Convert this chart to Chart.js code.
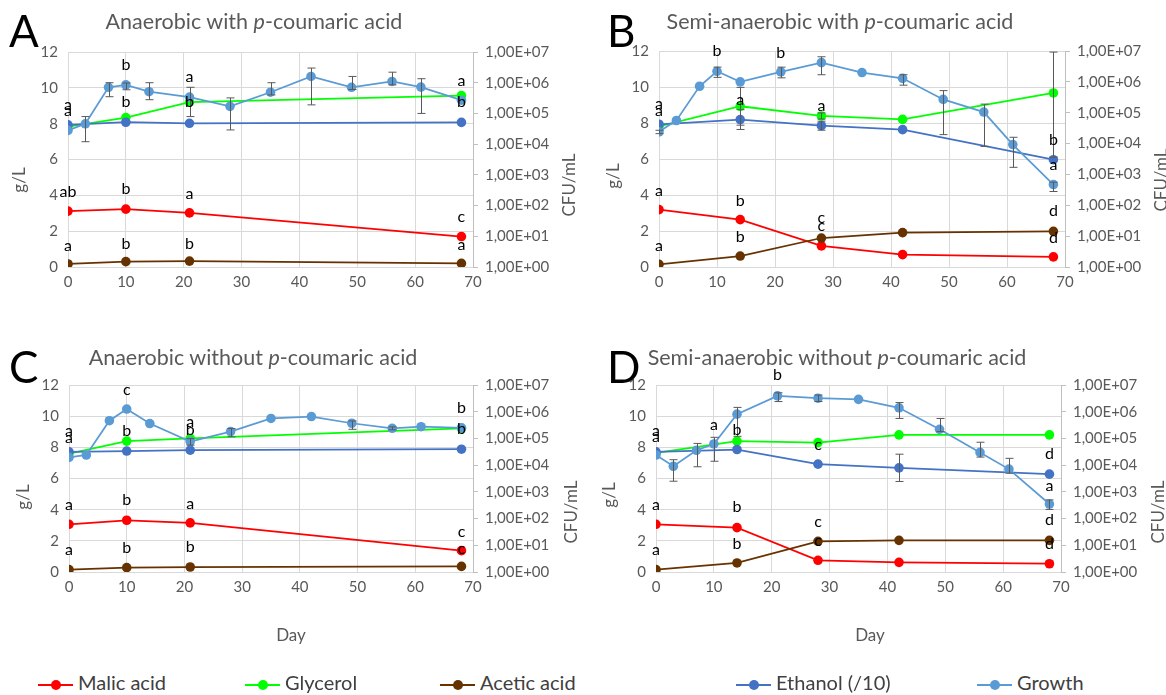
<!DOCTYPE html>
<html>
<head>
<meta charset="utf-8">
<script src="https://cdn.jsdelivr.net/npm/chart.js@4.4.0/dist/chart.umd.min.js"></script>
<style>
body { margin:0; background:#fff; font-family: Lato, "Open Sans", sans-serif; }
#page { position:relative; width:1166px; height:695px; overflow:hidden; }
canvas { position:absolute; }
.title { position:absolute; color:#595959; font-size:21.5px; white-space:nowrap; transform:translateX(-50%); }
.letter { position:absolute; font-size:44px; color:#000; line-height:1; }
.ytitle { position:absolute; color:#595959; font-size:17px; white-space:nowrap; transform:translate(-50%,-50%) rotate(-90deg); }
.xtitle { position:absolute; color:#595959; font-size:17px; transform:translateX(-50%); }
.leg { position:absolute; top:670px; font-size:20px; color:#404040; white-space:nowrap; }
.mk { display:inline-block; position:relative; width:35px; height:2px; vertical-align:middle; margin-right:5px; }
.mk::after { content:""; position:absolute; left:13px; top:-4px; width:10px; height:10px; border-radius:50%; background:inherit; }
</style>
</head>
<body>
<div id="page">
  <canvas id="chartA" width="580" height="300" style="left:0;top:0"></canvas>
  <canvas id="chartB" width="586" height="300" style="left:580px;top:0"></canvas>
  <canvas id="chartC" width="580" height="300" style="left:0;top:340px"></canvas>
  <canvas id="chartD" width="586" height="300" style="left:580px;top:340px"></canvas>

  <div class="letter" style="left:9px;top:8px">A</div>
  <div class="letter" style="left:607px;top:8px">B</div>
  <div class="letter" style="left:9px;top:344px">C</div>
  <div class="letter" style="left:607px;top:344px">D</div>

  <div class="title" style="left:254px;top:8px">Anaerobic with <i>p</i>-coumaric acid</div>
  <div class="title" style="left:840px;top:8px">Semi-anaerobic with <i>p</i>-coumaric acid</div>
  <div class="title" style="left:253px;top:344px">Anaerobic without <i>p</i>-coumaric acid</div>
  <div class="title" style="left:837px;top:344px">Semi-anaerobic without <i>p</i>-coumaric acid</div>

  <div class="ytitle" style="left:18px;top:180px">g/L</div>
  <div class="ytitle" style="left:612px;top:176px">g/L</div>
  <div class="ytitle" style="left:22px;top:497px">g/L</div>
  <div class="ytitle" style="left:608px;top:495px">g/L</div>
  <div class="ytitle" style="left:568px;top:185px">CFU/mL</div>
  <div class="ytitle" style="left:1160px;top:180px">CFU/mL</div>
  <div class="ytitle" style="left:570px;top:512px">CFU/mL</div>
  <div class="ytitle" style="left:1157px;top:512px">CFU/mL</div>
  <div class="xtitle" style="left:291px;top:624px">Day</div>
  <div class="xtitle" style="left:870px;top:624px">Day</div>

  <div class="leg" style="left:38px"><span class="mk" style="background:#ff0000"></span>Malic acid</div>
  <div class="leg" style="left:245px"><span class="mk" style="background:#00ff00"></span>Glycerol</div>
  <div class="leg" style="left:440px"><span class="mk" style="background:#663300"></span>Acetic acid</div>
  <div class="leg" style="left:736px"><span class="mk" style="background:#4472c4"></span>Ethanol (/10)</div>
  <div class="leg" style="left:977px"><span class="mk" style="background:#5b9bd5"></span>Growth</div>
</div>

<script>
// growth sampling days (same in all four panels)
const growthDays = [0, 3, 7, 10, 14, 21, 28, 35, 42, 49, 56, 61, 68];
const cfuTicks = [1, 10, 100, 1e3, 1e4, 1e5, 1e6, 1e7];

// A - anaerobic with p-coumaric acid
const daysA = [0, 10, 21, 68];
const malicA = [3.12, 3.23, 3.02, 1.70];
const glycerolA = [7.84, 8.34, 9.20, 9.57];
const aceticA = [0.17, 0.30, 0.33, 0.20];
const ethanolA = [7.93, 8.08, 8.02, 8.07];
const growthA = [2.8e4, 4.6e4, 7.1e5, 8.5e5, 5.1e5, 3.4e5, 1.7e5, 4.9e5, 1.6e6, 7.1e5, 1.1e6, 7.2e5, 2.7e5];
const growthErrA = [null, [1.2e4, 7.9e4], [3.5e5, 1.0e6], [5.9e5, 9.8e5], [2.8e5, 1.0e6], [7.9e4, 7.1e5],
  [2.9e4, 3.2e5], [4.0e5, 1.0e6], [1.9e5, 3.0e6], [6.0e5, 1.6e6], [8.5e5, 2.2e6], [1.0e5, 1.35e6], null];
const lettersA = [[0, 9.05, 'a'], [0, 8.7, 'a'], [0, 4.2, 'ab'], [0, 1.2, 'a'],
  [10, 11.3, 'b'], [10, 9.2, 'b'], [10, 4.35, 'b'], [10, 1.3, 'b'],
  [21, 10.6, 'a'], [21, 9.23, 'b'], [21, 4.1, 'a'], [21, 1.3, 'b'],
  [68, 10.37, 'a'], [68, 9.2, 'b'], [68, 2.78, 'c'], [68, 1.24, 'a']];

// B - semi-anaerobic with p-coumaric acid
const daysB = [0, 14, 28, 42, 68];
const malicB = [3.19, 2.63, 1.17, 0.69, 0.56];
const glycerolB = [7.81, 8.93, 8.39, 8.20, 9.67];
const aceticB = [0.15, 0.61, 1.61, 1.91, 1.98];
const ethanolB = [7.93, 8.19, 7.85, 7.63, 5.96];
const glycerolErrB = [null, [7.88, 9.98], [8.22, 8.56], null, [6.1, 11.94]];
const ethanolErrB = [null, [7.64, 8.74], [7.6, 8.1], null, null];
const growthB = [2.4e4, 5.6e4, 7.2e5, 2.2e6, 1.0e6, 2.1e6, 4.2e6, 2.0e6, 1.3e6, 2.7e5, 1.05e5, 9.3e3, 4.7e2];
const growthErrB = [[2.1e4, 2.7e4], null, null, [1.4e6, 3.0e6], null, [1.35e6, 3.0e6], [1.7e6, 6.5e6],
  null, [7.8e5, 1.7e6], [1.95e4, 5.2e5], [8.1e3, 1.9e5], [1.7e3, 1.6e4], [2.8e2, 5.6e2]];
const lettersB = [[0, 9.04, 'a'], [0, 8.7, 'a'], [0, 4.22, 'a'], [0, 1.2, 'a'],
  [10, 12.0, 'b'], [14, 9.3, 'a'], [14, 3.7, 'b'], [14, 1.7, 'b'], [21, 11.9, 'b'],
  [28, 8.98, 'a'], [28, 2.74, 'c'], [28, 2.3, 'c'],
  [68, 7.07, 'b'], [68, 5.69, 'a'], [68, 3.11, 'd'], [68, 1.63, 'd']];

// C - anaerobic without p-coumaric acid
const daysC = [0, 10, 21, 68];
const malicC = [3.06, 3.32, 3.15, 1.37];
const glycerolC = [7.60, 8.40, 8.57, 9.22];
const aceticC = [0.15, 0.28, 0.32, 0.36];
const ethanolC = [7.71, 7.76, 7.82, 7.88];
const growthC = [1.95e4, 2.4e4, 4.6e5, 1.26e6, 3.6e5, 7.6e4, 1.8e5, 5.6e5, 6.6e5, 3.7e5, 2.4e5, 2.75e5, 2.5e5];
const growthErrC = [null, null, null, null, null, [5.6e4, 9.8e4], [1.15e5, 2.35e5], null, null,
  [2.2e5, 4.5e5], [2.1e5, 2.7e5], null, null];
const lettersC = [[0, 9.06, 'a'], [0, 8.63, 'a'], [0, 4.33, 'a'], [0, 1.39, 'a'],
  [10, 11.72, 'c'], [10, 9.06, 'b'], [10, 4.6, 'b'], [10, 1.56, 'b'],
  [21, 9.64, 'a'], [21, 9.15, 'b'], [21, 4.39, 'a'], [21, 1.6, 'b'],
  [68, 10.55, 'b'], [68, 9.16, 'b'], [68, 2.6, 'c'], [68, 1.47, 'c']];

// D - semi-anaerobic without p-coumaric acid
const daysD = [0, 14, 28, 42, 68];
const malicD = [3.06, 2.85, 0.75, 0.62, 0.53];
const glycerolD = [7.65, 8.40, 8.31, 8.80, 8.80];
const aceticD = [0.15, 0.58, 1.97, 2.03, 2.03];
const ethanolD = [7.71, 7.86, 6.92, 6.68, 6.28];
const ethanolErrD = [null, null, null, [5.81, 7.56], null];
const growthD = [2.4e4, 9.1e3, 3.6e4, 6.2e4, 8.1e5, 3.9e6, 3.2e6, 2.9e6, 1.4e6, 2.2e5, 3.0e4, 7.1e3, 3.5e2];
const growthErrD = [null, [2.5e3, 1.6e4], [8.7e3, 6.5e4], [1.4e4, 1.1e5], [1.2e5, 1.45e6], [2.4e6, 5.1e6],
  [2.4e6, 4.2e6], null, [5.6e5, 2.2e6], [1.8e5, 5.6e5], [2.0e4, 7.2e4], [5.0e3, 1.8e4], [2.2e2, 5.0e2]];
const lettersD = [[0, 9.04, 'a'], [0, 8.68, 'a'], [0, 4.33, 'a'], [0, 1.39, 'a'],
  [10, 9.47, 'a'], [14, 9.15, 'b'], [14, 4.18, 'b'], [14, 1.82, 'b'], [21, 12.64, 'b'],
  [28, 8.14, 'c'], [28, 3.21, 'c'], [28, 2.03, 'c'],
  [68, 7.58, 'd'], [68, 5.55, 'a'], [68, 3.35, 'd'], [68, 1.82, 'd']];

const FONT = 'Lato, "Open Sans", sans-serif';

// draws vertical error bars with caps
const errorBars = {
  id: 'errorBars',
  afterDatasetsDraw(chart) {
    const ctx = chart.ctx;
    ctx.save();
    ctx.strokeStyle = '#595959';
    ctx.lineWidth = 1;
    chart.data.datasets.forEach(ds => {
      if (!ds.err) return;
      const ys = chart.scales[ds.yAxisID];
      ds.data.forEach((p, i) => {
        const e = ds.err[i];
        if (!e) return;
        const x = Math.round(chart.scales.x.getPixelForValue(p.x)) + 0.5;
        const y1 = ys.getPixelForValue(e[0]), y2 = ys.getPixelForValue(e[1]);
        ctx.beginPath();
        ctx.moveTo(x, y1); ctx.lineTo(x, y2);
        ctx.moveTo(x - 4, y1); ctx.lineTo(x + 4, y1);
        ctx.moveTo(x - 4, y2); ctx.lineTo(x + 4, y2);
        ctx.stroke();
      });
    });
    ctx.restore();
  }
};

// significance letters
const letterLabels = {
  id: 'letterLabels',
  afterDraw(chart, args, opts) {
    const ctx = chart.ctx;
    ctx.save();
    ctx.fillStyle = '#000';
    ctx.font = '16px ' + FONT;
    ctx.textAlign = 'center';
    ctx.textBaseline = 'middle';
    (opts.items || []).forEach(l => {
      ctx.fillText(l[2], chart.scales.x.getPixelForValue(l[0]), chart.scales.y.getPixelForValue(l[1]));
    });
    ctx.restore();
  }
};

function pts(xs, ys) {
  return xs.map((x, i) => ({ x: x, y: ys[i] }));
}

function ser(label, xs, ys, color, axis, err, order) {
  return {
    label: label, data: pts(xs, ys), borderColor: color, backgroundColor: color,
    borderWidth: 1.75, pointRadius: 4.8, pointBorderWidth: 0, pointHoverRadius: 4.8,
    yAxisID: axis, err: err, order: order, tension: 0
  };
}

function makePanel(id, p) {
  new Chart(document.getElementById(id), {
    type: 'line',
    data: {
      datasets: [
        ser('Malic acid', p.days, p.malic, '#ff0000', 'y', null, 4),
        ser('Glycerol', p.days, p.glycerol, '#00ff00', 'y', p.glyErr, 3),
        ser('Acetic acid', p.days, p.acetic, '#663300', 'y', null, 2),
        ser('Ethanol (/10)', p.days, p.ethanol, '#4472c4', 'y', p.ethErr, 1),
        ser('Growth', growthDays, p.growth, '#5b9bd5', 'y2', p.growthErr, 0)
      ]
    },
    options: {
      responsive: false,
      animation: false,
      layout: { padding: { top: p.top, left: 0, right: 0, bottom: 0 } },
      plugins: {
        legend: { display: false },
        tooltip: { enabled: false },
        letterLabels: { items: p.letters }
      },
      scales: {
        x: {
          type: 'linear', min: 0, max: 70,
          ticks: { stepSize: 10, color: '#595959', font: { family: FONT, size: 15 }, padding: 6 },
          grid: { color: '#d9d9d9', drawTicks: false },
          border: { display: false },
          afterFit: s => { s.height = p.xh; }
        },
        y: {
          min: 0, max: 12,
          ticks: { stepSize: 2, color: '#595959', font: { family: FONT, size: 15 }, padding: 10 },
          grid: { color: '#d9d9d9', drawTicks: false },
          border: { display: false },
          afterFit: s => { s.width = p.yw; }
        },
        y2: {
          type: 'logarithmic', position: 'right', min: 1, max: 1e7,
          afterBuildTicks: s => { s.ticks = cfuTicks.map(v => ({ value: v })); },
          ticks: {
            color: '#595959', font: { family: FONT, size: 15 }, padding: 7,
            callback: v => '1,00E+0' + Math.round(Math.log10(v))
          },
          grid: { drawOnChartArea: false, color: '#bfbfbf', tickLength: 5 },
          border: { color: '#bfbfbf' },
          afterFit: s => { s.width = p.y2w; }
        }
      }
    },
    plugins: [errorBars, letterLabels]
  });
}

makePanel('chartA', { days: daysA, malic: malicA, glycerol: glycerolA, acetic: aceticA, ethanol: ethanolA,
  growth: growthA, growthErr: growthErrA, letters: lettersA, top: 52, xh: 33, yw: 68, y2w: 107 });
makePanel('chartB', { days: daysB, malic: malicB, glycerol: glycerolB, acetic: aceticB, ethanol: ethanolB,
  glyErr: glycerolErrB, ethErr: ethanolErrB,
  growth: growthB, growthErr: growthErrB, letters: lettersB, top: 51, xh: 33, yw: 79, y2w: 101 });
makePanel('chartC', { days: daysC, malic: malicC, glycerol: glycerolC, acetic: aceticC, ethanol: ethanolC,
  growth: growthC, growthErr: growthErrC, letters: lettersC, top: 45, xh: 68, yw: 69, y2w: 107 });
makePanel('chartD', { days: daysD, malic: malicD, glycerol: glycerolD, acetic: aceticD, ethanol: ethanolD,
  ethErr: ethanolErrD,
  growth: growthD, growthErr: growthErrD, letters: lettersD, top: 45, xh: 68, yw: 76, y2w: 105 });
</script>
</body>
</html>
